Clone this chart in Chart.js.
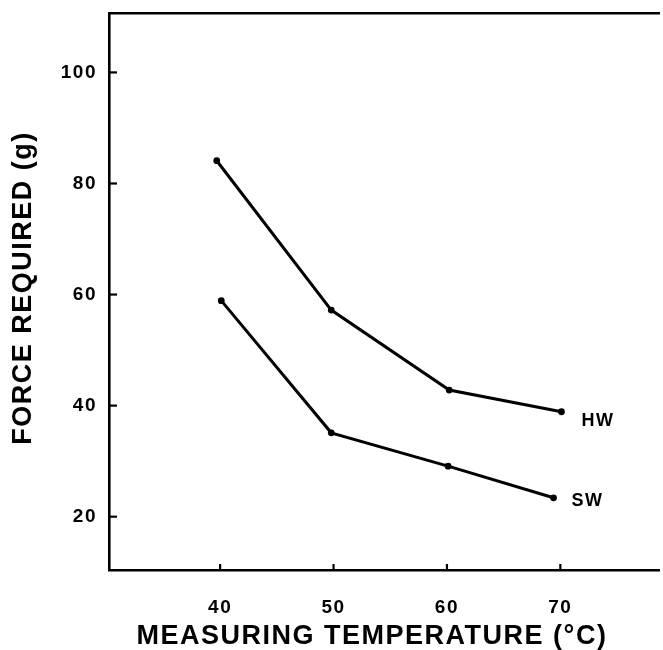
<!DOCTYPE html>
<html><head><meta charset="utf-8">
<script src="https://cdn.jsdelivr.net/npm/chart.js@4.4.0/dist/chart.umd.min.js"></script>
<style>html,body{margin:0;padding:0;background:#fff}#wrap{width:663px;height:650px}</style>
</head><body><div id="wrap"><canvas id="c" width="663" height="650"></canvas></div>
<script>
// Data
const seriesNames = ['HW', 'SW'];
const tempHW = [39.7, 49.8, 60.2, 70.1];
const forceHW = [84.1, 57.2, 42.8, 38.9];
const tempSW = [40.1, 49.8, 60.1, 69.4];
const forceSW = [58.9, 35.1, 29.1, 23.4];
const xTickValues = [40, 50, 60, 70];
const yTickValues = [20, 40, 60, 80, 100];
const xTitle = 'MEASURING TEMPERATURE (°C)';
const yTitle = 'FORCE REQUIRED (g)';

const X_MIN = 30.2, X_MAX = 78.7, Y_MIN = 10.4, Y_MAX = 110.7;
const FONT = "'Liberation Sans', Arial, Helvetica, sans-serif";

const spacingPlugin = {
  id: 'spacing',
  beforeDraw(chart) { chart.ctx.letterSpacing = '1.5px'; }
};
const inwardTicks = {
  id: 'inwardTicks',
  afterDatasetsDraw(chart) {
    const {ctx, chartArea} = chart;
    const xs = chart.scales.x, ys = chart.scales.y;
    ctx.save();
    ctx.strokeStyle = '#000';
    ctx.lineWidth = 2.2;
    ys.ticks.forEach(t => {
      const py = ys.getPixelForValue(t.value);
      ctx.beginPath(); ctx.moveTo(chartArea.left, py); ctx.lineTo(chartArea.left + 8, py); ctx.stroke();
    });
    xs.ticks.forEach(t => {
      const px = xs.getPixelForValue(t.value);
      ctx.beginPath(); ctx.moveTo(px, chartArea.bottom); ctx.lineTo(px, chartArea.bottom - 6); ctx.stroke();
    });
    ctx.restore();
  }
};
const endLabels = {
  id: 'endLabels',
  afterDatasetsDraw(chart, args, opts) {
    const {ctx} = chart;
    ctx.save();
    ctx.fillStyle = '#000';
    ctx.font = "bold 18px " + FONT;
    ctx.textAlign = 'left';
    ctx.textBaseline = 'middle';
    chart.data.datasets.forEach((ds, i) => {
      const meta = chart.getDatasetMeta(i);
      const pt = meta.data[meta.data.length - 1];
      const off = opts.offsets[i];
      ctx.fillText(ds.label, pt.x + off[0], pt.y + off[1]);
    });
    ctx.restore();
  }
};
const axisTitles = {
  id: 'axisTitles',
  afterDraw(chart) {
    const {ctx, chartArea} = chart;
    ctx.save();
    ctx.fillStyle = '#000';
    ctx.font = "bold 27px " + FONT;
    ctx.textAlign = 'center';
    ctx.textBaseline = 'middle';
    ctx.fillText(xTitle, chartArea.left + 263, chartArea.bottom + 67);
    ctx.translate(chartArea.left - 85, chartArea.top + 275);
    ctx.rotate(-Math.PI / 2);
    ctx.fillText(yTitle, 0, 0);
    ctx.restore();
  }
};
const noPad = s => { s.paddingTop = 0; s.paddingBottom = 0; s.paddingLeft = 0; s.paddingRight = 0; };

const toPts = (xs, ys) => xs.map((x, i) => ({x, y: ys[i]}));

new Chart(document.getElementById('c'), {
  type: 'line',
  data: {
    datasets: [
      {label: seriesNames[0], data: toPts(tempHW, forceHW)},
      {label: seriesNames[1], data: toPts(tempSW, forceSW)}
    ]
  },
  options: {
    responsive: false,
    animation: false,
    devicePixelRatio: 1,
    layout: {padding: 0},
    elements: {
      line: {borderColor: '#000', borderWidth: 3, tension: 0, fill: false},
      point: {radius: 3.4, backgroundColor: '#000', borderColor: '#000', borderWidth: 0}
    },
    plugins: {
      legend: {display: false},
      tooltip: {enabled: false},
      endLabels: {offsets: [[20, 9], [18, 3]]}
    },
    scales: {
      x: {
        type: 'linear', position: 'bottom', min: X_MIN, max: X_MAX,
        afterBuildTicks: s => { s.ticks = xTickValues.map(v => ({value: v})); },
        afterFit: s => { s.height = 80; noPad(s); },
        grid: {display: false, drawTicks: false},
        border: {display: true, color: '#000', width: 2.6},
        ticks: {color: '#000', padding: 26, maxRotation: 0, font: {family: FONT, size: 19, weight: 'bold'}},
        title: {display: false}
      },
      x2: {
        type: 'linear', position: 'top', min: X_MIN, max: X_MAX,
        afterFit: s => { s.height = 13; noPad(s); },
        grid: {display: false, drawTicks: false},
        border: {display: true, color: '#000', width: 2.6},
        ticks: {display: false}
      },
      y: {
        type: 'linear', position: 'left', min: Y_MIN, max: Y_MAX,
        afterBuildTicks: s => { s.ticks = yTickValues.map(v => ({value: v})); },
        afterFit: s => { s.width = 109; noPad(s); },
        grid: {display: false, drawTicks: false},
        border: {display: true, color: '#000', width: 2.6},
        ticks: {color: '#000', padding: 12, font: {family: FONT, size: 19, weight: 'bold'}},
        title: {display: false}
      }
    }
  },
  plugins: [spacingPlugin, inwardTicks, endLabels, axisTitles]
});
</script></body></html>
